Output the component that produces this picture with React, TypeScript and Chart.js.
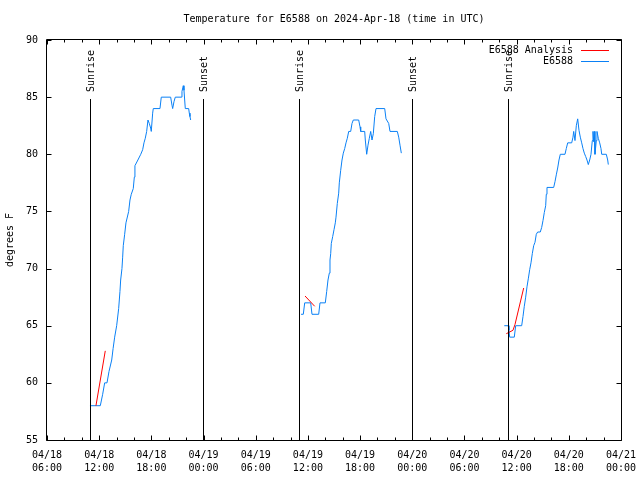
import React, { useEffect, useRef } from "react";
import { Chart, registerables } from "chart.js";

Chart.register(...registerables);

// Hours since 2024-04-18 00:00 UTC; null temp = gap in the record
const obsHours: number[] = [
  10.94, 12.13, 12.4, 12.63, 12.9, 13.13, 13.44, 13.6, 13.78, 14.01, 14.24, 14.39, 14.47, 14.62, 14.7, 14.77, 14.93,
  15.08, 15.39, 15.54, 15.69, 15.92, 16.04, 16.11, 16.45, 16.78, 17.0, 17.15, 17.3, 17.46, 17.61, 17.76, 17.92, 17.99,
  18.15, 18.22, 18.99, 19.14, 20.22, 20.37, 20.45, 20.6, 20.75, 21.44, 21.52, 21.67, 21.75, 21.83, 21.9, 22.29, 22.36,
  22.44, 22.52,
  29,
  35.21, 35.47, 35.63, 36.32, 36.47, 37.24, 37.39, 38.0, 38.16, 38.31, 38.46, 38.54, 38.62, 38.69, 38.85, 39.0, 39.15,
  39.23, 39.38, 39.54, 39.61, 39.77, 39.92, 40.07, 40.23, 40.38, 40.53, 40.69, 40.92, 41.07, 41.22, 41.84, 41.99, 42.07,
  42.53, 42.6, 42.76, 42.91, 43.06, 43.22, 43.37, 43.52, 43.68, 43.83, 44.83, 44.98, 45.29, 45.44, 46.28, 46.44, 46.59,
  46.74,
  52,
  58.58, 59.04, 59.12, 59.2, 59.73, 59.89, 60.58, 60.73, 60.88, 61.04, 61.19, 61.34, 61.5, 61.65, 61.8, 61.96, 62.11,
  62.26, 62.42, 62.72, 62.88, 63.03, 63.18, 63.34, 63.41, 63.49, 64.26, 64.41, 64.56, 64.72, 64.87, 65.02, 65.56, 65.71,
  65.87, 66.33, 66.48, 66.56, 66.71, 66.86, 67.02, 67.17, 67.32, 67.48, 67.63, 67.78, 67.94, 68.09, 68.24, 68.4, 68.55,
  68.7, 68.78, 68.86, 68.93, 69.01, 69.16, 69.24, 69.39, 69.55, 69.7, 69.78, 70.31, 70.47, 70.54,
];
const obsTemps: (number | null)[] = [
  58, 58, 59, 60, 60, 61, 62, 63, 64, 65, 66.5, 68, 69, 70, 71, 72, 73,
  74, 75, 76, 76.5, 77, 78, 79, 79.5, 80, 80.4, 81, 81.4, 82, 83, 82.7, 82.3, 82,
  83.6, 84, 84, 85, 85, 84.3, 84, 84.6, 85, 85, 85.5, 86, 85.6, 84.75, 84, 84, 83.6,
  83.3, 83,
  null,
  66, 66, 67, 67, 66, 66, 67, 67, 68, 69, 69.6, 70.75, 71.3, 72.2, 72.8, 73.4, 74,
  74.5, 75.7, 76.6, 77.5, 78.6, 79.5, 80.1, 80.5, 81, 81.4, 82, 82, 82.7, 83, 83, 82.4, 82,
  82, 81.25, 80, 80.8, 81.4, 82, 81.25, 81.8, 83.3, 84, 84, 83.1, 82.7, 82, 82, 81.5, 80.8,
  80.1,
  null,
  65, 65, 64.6, 64, 64, 65, 65, 65.8, 66.7, 67.5, 68.4, 69.1, 69.9, 70.5, 71.3, 72, 72.3,
  73, 73.2, 73.2, 73.6, 74.2, 74.9, 75.5, 76.5, 77.1, 77.1, 77.6, 78.2, 78.8, 79.5, 80, 80, 80.5,
  81, 81, 81.5, 82, 81.2, 82.5, 83.1, 82.1, 81.5, 81, 80.5, 80.1, 79.8, 79.5, 79.1, 79.5, 80,
  81.2, 82, 81.1, 82, 80, 81.2, 82, 81.4, 81, 80.5, 80, 80, 79.5, 79.1,
];
const analysisHours: number[] = [11.63, 12.7, 24, 35.67, 36.78, 48, 58.81, 59.58, 59.81, 60.81];
const analysisTemps: (number | null)[] = [58, 62.8, null, 67.6, 66.7, null, 64.3, 64.6, 65.1, 68.3];

const eventHours: number[] = [10.94, 23.97, 35.01, 47.97, 59.01];
const eventLabels: string[] = ["Sunrise", "Sunset", "Sunrise", "Sunset", "Sunrise"];

const xMin = 6;
const xMax = 72;
const xStep = 6;
const xMinorStep = 2;
const yMin = 55;
const yMax = 90;
const yStep = 5;

const titleText = "Temperature for E6588 on 2024-Apr-18 (time in UTC)";
const yTitle = "degrees F";
const seriesNames = ["E6588 Analysis", "E6588"];
const seriesColors = ["#ff0000", "#0a80f5"];

const FONT = "'DejaVu Sans Mono', monospace";

function tickLabel(v: number): string[] {
  const day = 18 + Math.floor(v / 24);
  const hh = ((v % 24) + 24) % 24;
  return ["04/" + String(day).padStart(2, "0"), String(hh).padStart(2, "0") + ":00"];
}

const decorPlugin = {
  id: "decor",
  afterDraw(chart: any) {
    const { ctx, chartArea } = chart;
    const { left, right, top, bottom } = chartArea;
    const xs = chart.scales.x;
    const ys = chart.scales.y;
    const px = (v: number) => Math.round(xs.getPixelForValue(v)) + 0.5;
    const py = (v: number) => Math.round(ys.getPixelForValue(v)) + 0.5;
    ctx.save();
    ctx.strokeStyle = "#000";
    ctx.lineWidth = 1;
    // frame
    const L = Math.round(left) - 0.5;
    const R = Math.round(right) + 0.5;
    const T = Math.round(top) - 0.5;
    const B = Math.round(bottom) + 0.5;
    ctx.beginPath();
    ctx.rect(L, T, R - L, B - T);
    ctx.stroke();
    // x ticks (major + minor), mirrored
    ctx.beginPath();
    for (let v = xMin; v <= xMax; v += xMinorStep) {
      const major = (v - xMin) % xStep === 0;
      const len = major ? 5 : 3;
      const x = px(v);
      ctx.moveTo(x, B);
      ctx.lineTo(x, B - len);
      ctx.moveTo(x, T);
      ctx.lineTo(x, T + len);
    }
    for (let v = yMin; v <= yMax; v += yStep) {
      const y = py(v);
      ctx.moveTo(L, y);
      ctx.lineTo(L + 5, y);
      ctx.moveTo(R, y);
      ctx.lineTo(R - 5, y);
    }
    ctx.stroke();
    // sunrise / sunset markers
    ctx.font = "10px " + FONT;
    ctx.fillStyle = "#000";
    eventHours.forEach((h, i) => {
      const x = px(h);
      ctx.beginPath();
      ctx.moveTo(x, top + 59);
      ctx.lineTo(x, B);
      ctx.stroke();
      ctx.save();
      ctx.translate(x + 1, top + 52);
      ctx.rotate(-Math.PI / 2);
      ctx.textAlign = "left";
      ctx.textBaseline = "middle";
      ctx.fillText(eventLabels[i], 0, 0);
      ctx.restore();
    });
    // title
    ctx.textAlign = "center";
    ctx.textBaseline = "middle";
    ctx.fillText(titleText, (left + right) / 2, 19);
    // legend
    const dsOrder = [0, 1];
    dsOrder.forEach((di, row) => {
      const y = top + 10 + row * 11;
      ctx.textAlign = "right";
      ctx.fillStyle = "#000";
      ctx.fillText(seriesNames[di], right - 48, y);
      ctx.strokeStyle = seriesColors[di];
      ctx.beginPath();
      ctx.moveTo(right - 40, Math.round(y) + 0.5);
      ctx.lineTo(right - 12, Math.round(y) + 0.5);
      ctx.stroke();
    });
    ctx.restore();
  },
};

export default function App() {
  const ref = useRef<HTMLCanvasElement | null>(null);
  useEffect(() => {
    if (!ref.current) return;
    Chart.defaults.font.family = FONT;
    Chart.defaults.font.size = 10;
    Chart.defaults.color = "#000";
    const chart = new Chart(ref.current, {
      type: "line",
      data: {
        datasets: [
          {
            label: seriesNames[0],
            data: analysisHours.map((h, i) => ({ x: h, y: analysisTemps[i] })),
            borderColor: seriesColors[0],
            borderWidth: 1,
            pointRadius: 0,
            tension: 0,
            spanGaps: false,
          },
          {
            label: seriesNames[1],
            data: obsHours.map((h, i) => ({ x: h, y: obsTemps[i] })),
            borderColor: seriesColors[1],
            borderWidth: 1,
            pointRadius: 0,
            tension: 0,
            spanGaps: false,
          },
        ],
      },
      options: {
        animation: false,
        responsive: false,
        devicePixelRatio: 1,
        layout: { padding: { top: 40, right: 19, left: 0, bottom: 0 } },
        plugins: { legend: { display: false }, title: { display: false }, tooltip: { enabled: false } },
        scales: {
          x: {
            type: "linear",
            min: xMin,
            max: xMax,
            grid: { display: false, drawTicks: false },
            border: { display: false },
            ticks: {
              stepSize: xStep,
              autoSkip: false,
              maxRotation: 0,
              padding: 9,
              font: { size: 10, lineHeight: 1.3 },
              callback: (v: any) => tickLabel(Number(v)),
            },
            afterFit: (s: any) => {
              s.height = 40;
              s.paddingLeft = 0;
              s.paddingRight = 0;
            },
          },
          y: {
            min: yMin,
            max: yMax,
            grid: { display: false, drawTicks: false },
            border: { display: false },
            ticks: { stepSize: yStep, padding: 9, font: { size: 10 } },
            title: { display: true, text: yTitle, padding: { top: 4, bottom: 0 }, font: { size: 10 } },
            afterFit: (s: any) => {
              s.width = 47;
              s.paddingTop = 0;
              s.paddingBottom = 0;
            },
          },
        },
      },
      plugins: [decorPlugin],
    });
    return () => chart.destroy();
  }, []);
  return (
    <div style={{ position: "fixed", left: 0, top: 0, width: 640, height: 480, background: "#fff" }}>
      <canvas ref={ref} width={640} height={480} />
    </div>
  );
}
